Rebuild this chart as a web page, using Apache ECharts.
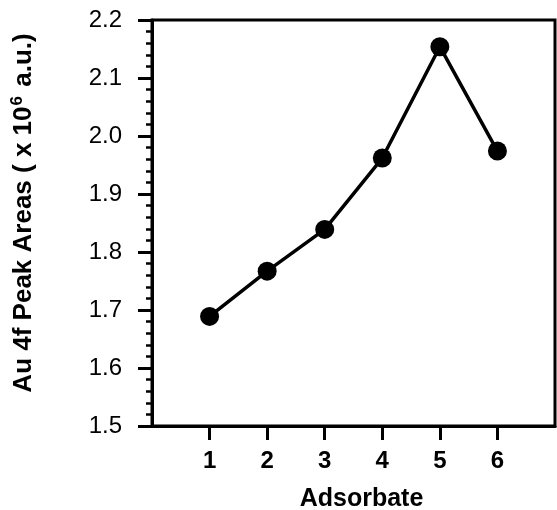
<!DOCTYPE html>
<html>
<head>
<meta charset="utf-8">
<script src="https://cdn.jsdelivr.net/npm/echarts@6/dist/echarts.min.js"></script>
<style>
  html, body { margin: 0; padding: 0; background: #fff; }
  #chart { width: 557px; height: 510px; }
</style>
</head>
<body>
<div id="chart"></div>
<script>
// Au 4f peak areas for each adsorbate
const adsorbates = [1, 2, 3, 4, 5, 6];
const peakAreas = [1.689, 1.767, 1.839, 1.962, 2.154, 1.974];
const xTicks = [1, 2, 3, 4, 5, 6];
const yTicks = [1.5, 1.6, 1.7, 1.8, 1.9, 2.0, 2.1, 2.2];

const FONT = '"Liberation Sans", Arial, Helvetica, sans-serif';

const chart = echarts.init(document.getElementById('chart'));
chart.setOption({
  animation: false,
  backgroundColor: '#fff',
  grid: {
    left: 152, right: 2, top: 20, bottom: 84,
    containLabel: false,
    outerBoundsMode: 'none',
    show: true, borderColor: '#000', borderWidth: 3, backgroundColor: 'transparent'
  },
  xAxis: {
    type: 'value',
    min: 0, max: 7, interval: 1,
    name: 'Adsorbate',
    nameLocation: 'middle',
    nameGap: 61,
    nameTextStyle: { fontFamily: FONT, fontWeight: 'bold', fontSize: 25, color: '#000', padding: [0, 0, 0, 16] },
    axisLine: { show: true, lineStyle: { color: '#000', width: 3 } },
    axisTick: { show: true, length: 14, lineStyle: { color: '#000', width: 3 }, customValues: xTicks },
    axisLabel: {
      customValues: xTicks,
      margin: 23,
      fontFamily: FONT, fontWeight: 'bold', fontSize: 24, color: '#000'
    },
    splitLine: { show: false }
  },
  yAxis: {
    type: 'value',
    min: yTicks[0], max: yTicks[yTicks.length - 1], interval: 0.1,
    name: '{t|Au 4f Peak Areas ( x 10}{s|6}{t| a.u.)}',
    nameLocation: 'middle',
    nameGap: 114,
    nameRotate: 90,
    nameTextStyle: {
      padding: [0, 0, 0, 20],
      rich: {
        t: { fontFamily: FONT, fontWeight: 'bold', fontSize: 26, color: '#000' },
        s: { fontFamily: FONT, fontWeight: 'bold', fontSize: 17, color: '#000', verticalAlign: 'top', padding: [0, 2, 12, 1] }
      }
    },
    axisLine: { show: true, lineStyle: { color: '#000', width: 3 } },
    axisTick: { show: true, length: 14, lineStyle: { color: '#000', width: 3 } },
    minorTick: { show: true, splitNumber: 5, length: 6, lineStyle: { color: '#000', width: 2.5 } },
    axisLabel: {
      margin: 30,
      formatter: v => v.toFixed(1),
      fontFamily: FONT, fontWeight: 'normal', fontSize: 24, color: '#000'
    },
    splitLine: { show: false },
    minorSplitLine: { show: false }
  },
  series: [{
    type: 'line',
    data: adsorbates.map((a, i) => [a, peakAreas[i]]),
    symbol: 'circle',
    symbolSize: 19,
    lineStyle: { color: '#000', width: 3.5 },
    itemStyle: { color: '#000' }
  }]
});
</script>
</body>
</html>
